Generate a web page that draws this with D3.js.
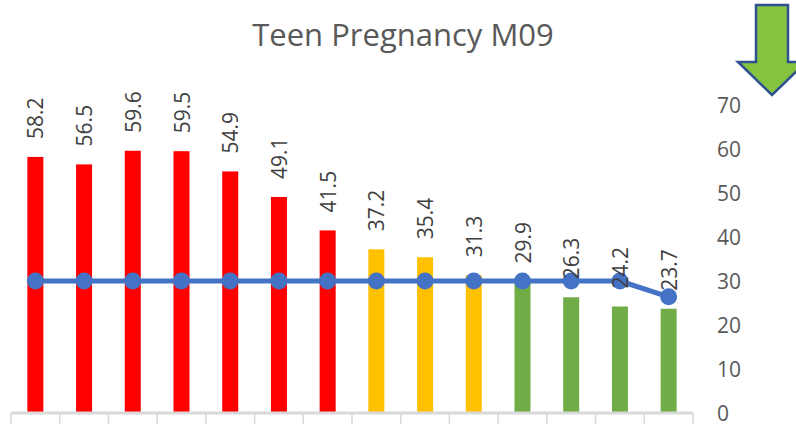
<!DOCTYPE html>
<html><head><meta charset="utf-8">
<script src="https://cdn.jsdelivr.net/npm/d3@7"></script>
<style>body{margin:0;background:#fff}svg{display:block}</style>
</head><body>
<svg id="c" width="796" height="424"></svg>
<script>
const categories = ["1","2","3","4","5","6","7","8","9","10","11","12","13","14"];
const values = [58.2,56.5,59.6,59.5,54.9,49.1,41.5,37.2,35.4,31.3,29.9,26.3,24.2,23.7];
const ragStatus = ["r","r","r","r","r","r","r","y","y","y","g","g","g","g"];
const target = [30,30,30,30,30,30,30,30,30,30,30,30,30,26.4];
const yTicks = [0,10,20,30,40,50,60,70];
const title = "Teen Pregnancy M09";

const colors = {r:"#FF0000", y:"#FFC000", g:"#70AD47"};
const svg = d3.select("#c");
const font = "'Open Sans', 'Noto Sans', sans-serif";

const x = d3.scaleBand().domain(categories).range([11, 693]).paddingInner(0).paddingOuter(0);
const y = d3.scaleLinear().domain([0,70]).range([413,105]);

// title
svg.append("text").attr("x",403).attr("y",46).attr("text-anchor","middle")
  .attr("font-family",font).attr("font-size",31).attr("fill","#595959").text(title);

// right axis labels
svg.append("g").selectAll("text").data(yTicks).join("text")
  .attr("x",717).attr("y",d=>y(d)).attr("dy","0.36em")
  .attr("font-family",font).attr("font-size",21).attr("fill","#595959").text(d=>d);

// bars
const bw = 16;
svg.append("g").selectAll("rect").data(values).join("rect")
  .attr("x",(d,i)=>x(categories[i])+x.bandwidth()/2-bw/2)
  .attr("width",bw)
  .attr("y",d=>y(d)).attr("height",d=>y(0)-y(d))
  .attr("fill",(d,i)=>colors[ragStatus[i]]);

// x axis
const gx = svg.append("g").attr("transform",`translate(0,${y(0)})`);
gx.append("line").attr("x1",x.range()[0]).attr("x2",x.range()[1]).attr("y1",0).attr("y2",0).attr("stroke","#D9D9D9").attr("stroke-width",3);
const bounds = d3.range(categories.length+1).map(i=> i<categories.length ? x(categories[i]) : x.range()[1]);
gx.selectAll("line.t").data(bounds).join("line").attr("class","t")
  .attr("x1",d=>d).attr("x2",d=>d).attr("y1",0).attr("y2",11)
  .attr("stroke","#D9D9D9").attr("stroke-width",1.5);

// target line
const cx = (d,i)=>x(categories[i])+x.bandwidth()/2;
svg.append("path").datum(target)
  .attr("d",d3.line().x(cx).y(d=>y(d)))
  .attr("fill","none").attr("stroke","#4472C4").attr("stroke-width",5).attr("stroke-linejoin","round");
svg.append("g").selectAll("circle").data(target).join("circle")
  .attr("cx",cx).attr("cy",d=>y(d)).attr("r",8.5).attr("fill","#4472C4");

// value labels
svg.append("g").selectAll("text").data(values).join("text")
  .attr("transform",(d,i)=>`translate(${cx(d,i)+8},${y(d)-18}) rotate(-90)`)
  .attr("font-family",font).attr("font-size",21).attr("fill","#404040")
  .text(d=>d.toFixed(1));

// arrow
const ax = 772;
const arrow = [[ax-16,5],[ax+16,5],[ax+16,62],[ax+34,62],[ax,95],[ax-34,62],[ax-16,62]];
svg.append("path").attr("d",d3.line()(arrow)+"Z")
  .attr("fill","#86C440").attr("stroke","#2F528F").attr("stroke-width",2.5).attr("stroke-linejoin","miter");
</script>
</body></html>
